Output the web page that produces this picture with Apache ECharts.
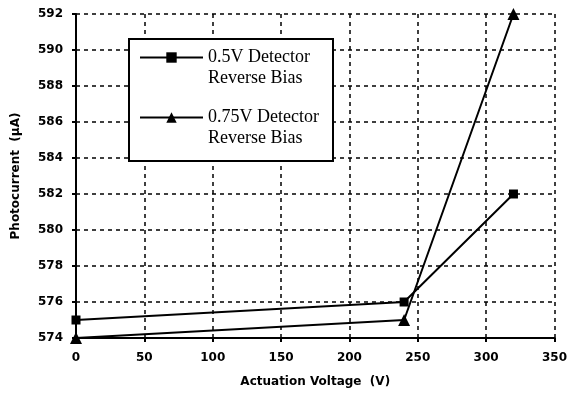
<!DOCTYPE html>
<html><head><meta charset="utf-8">
<script src="https://cdn.jsdelivr.net/npm/echarts@6/dist/echarts.min.js"></script>
<style>html,body{margin:0;padding:0;background:#fff}#c{width:570px;height:400px}</style>
</head><body><div id="c"></div>
<script>
const seriesNames = ['0.5V Detector\nReverse Bias', '0.75V Detector\nReverse Bias'];
const voltage = [0, 240, 320];
const bias05 = [575, 576, 582];
const bias075 = [574, 575, 592];
const xTicks = [0, 50, 100, 150, 200, 250, 300, 350];
const yTicks = [574, 576, 578, 580, 582, 584, 586, 588, 590, 592];

const chart = echarts.init(document.getElementById('c'));
const lblFont = {fontFamily: 'DejaVu Sans', fontWeight: 'bold', fontSize: 12, color: '#000'};
chart.setOption({
  animation: false,
  backgroundColor: '#fff',
  grid: {left: 76, right: 13, top: 14, bottom: 62},
  graphic: [{
    type: 'rect', left: 128, top: 38, z: 3,
    shape: {width: 204, height: 122},
    style: {fill: '#fff', stroke: '#000', lineWidth: 2}
  }],
  legend: {
    orient: 'vertical',
    left: 139, top: 26,
    padding: 0,
    itemWidth: 63, itemHeight: 13, itemGap: -3,
    data: seriesNames,
    formatter: name => '\n' + name,
    textStyle: {fontFamily: 'Liberation Serif', fontSize: 18, color: '#000', lineHeight: 21}
  },
  xAxis: {
    type: 'value', min: xTicks[0], max: xTicks[xTicks.length - 1], interval: 50,
    name: 'Actuation Voltage  (V)', nameLocation: 'middle', nameGap: 38,
    nameTextStyle: lblFont,
    axisLine: {lineStyle: {color: '#000', width: 2}},
    axisTick: {show: true, inside: false, length: 4, lineStyle: {color: '#000', width: 2}},
    axisLabel: Object.assign({margin: 14}, lblFont),
    splitLine: {show: true, lineStyle: {color: '#000', type: [4, 4], width: 1.5}}
  },
  yAxis: {
    type: 'value', min: yTicks[0], max: yTicks[yTicks.length - 1], interval: 2,
    name: 'Photocurrent  (µA)', nameLocation: 'middle', nameGap: 54,
    nameTextStyle: lblFont,
    axisLine: {show: true, lineStyle: {color: '#000', width: 2}},
    axisTick: {show: true, inside: false, length: 4, lineStyle: {color: '#000', width: 2}},
    axisLabel: Object.assign({margin: 13}, lblFont),
    splitLine: {show: true, lineStyle: {color: '#000', type: [4, 4], width: 1.5}}
  },
  series: [
    {name: seriesNames[0], type: 'line', data: voltage.map((v, i) => [v, bias05[i]]),
     symbol: 'rect', symbolSize: 9, itemStyle: {color: '#000'}, lineStyle: {color: '#000', width: 2}},
    {name: seriesNames[1], type: 'line', data: voltage.map((v, i) => [v, bias075[i]]),
     symbol: 'triangle', symbolSize: 12, itemStyle: {color: '#000'}, lineStyle: {color: '#000', width: 2}}
  ]
});
</script></body></html>
